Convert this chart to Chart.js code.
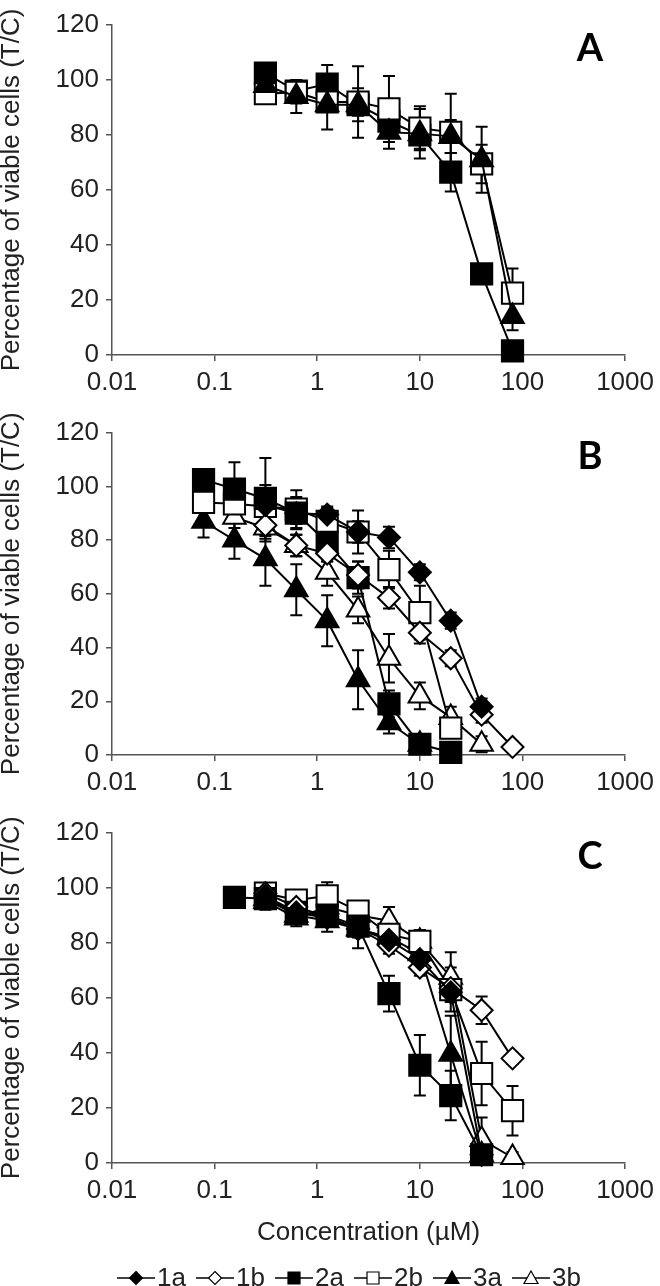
<!DOCTYPE html>
<html>
<head>
<meta charset="utf-8">
<script src="https://cdn.jsdelivr.net/npm/chart.js@4.4.1/dist/chart.umd.min.js"></script>
<style>
body{margin:0;background:#fff;}
#wrap{position:relative;width:660px;height:1286px;}
.panel{position:absolute;left:0;width:660px;}
</style>
</head>
<body>
<div id="wrap">
  <div class="panel" style="top:0;height:410px"><canvas id="chartA"></canvas></div>
  <div class="panel" style="top:410px;height:400px"><canvas id="chartB"></canvas></div>
  <div class="panel" style="top:810px;height:476px"><canvas id="chartC"></canvas></div>
</div>
<script>
// axis ticks
var xTickValues = [0.01, 0.1, 1, 10, 100, 1000]
var xTickLabels = ['0.01', '0.1', '1', '10', '100', '1000']
var seriesNames = ['1a', '1b', '2a', '2b', '3a', '3b']

// panel A
var concA = [0.3125, 0.625, 1.25, 2.5, 5, 10, 20, 40, 80]
var a2a = [102.5, 96, 98.5, 91, 85, 80, 66.5, 29.5, 1.5]
var a2aErr = [3.5, 3, 7, 4, 4, 5, 7, 2, 1]
var a2b = [95, 95.5, 92, 92, 89.5, 82.5, 81, 69.5, 22.5]
var a2bErr = [2, 4, 3, 13, 12, 8, 14, 7, 9]
var a3a = [98, 94, 91, 91, 81, 80.5, 79.5, 71, 14]
var a3aErr = [3, 6, 9, 6, 6, 9, 6, 12, 5]

// panel B
var concB = [0.078, 0.156, 0.3125, 0.625, 1.25, 2.5, 5, 10, 20, 40, 80]
var b1a = [null, null, 93, 90, 89.5, 83, 81, 68, 50, 18, null]
var b1aErr = [0, 0, 3, 4, 3, 4, 4, 3, 3, 3, 0]
var b1b = [null, null, 85.5, 78, 75, 67, 58.5, 45.5, 36, 15, 3]
var b1bErr = [0, 0, 4, 4, 3, 5, 4, 4, 3, 3, 2]
var b2a = [102.5, 99, 95.5, 90, 79, 66, 19, 4, 1, null, null]
var b2aErr = [3, 10, 15, 6, 7, 6, 5, 2, 1, 0, 0]
var b2b = [94, 93.5, 92.5, 91.5, 87, 83, 69, 53, 10, null, null]
var b2bErr = [3, 4, 8, 7, 5, 8, 7, 10, 3, 0, 0]
var b3a = [87, 80, 73, 61.5, 50, 28, 12, 4, null, null, null]
var b3aErr = [6, 7, 10, 9.5, 9.5, 11, 4, 2, 0, 0, 0]
var b3b = [null, 88.5, 84.5, 78, 68, 54, 36, 22, 14, 4, null]
var b3bErr = [0, 4, 5, 4, 5, 5, 9, 5, 4, 3, 0]

// panel C
var concC = [0.156, 0.3125, 0.625, 1.25, 2.5, 5, 10, 20, 40, 80]
var c1a = [null, 97, 91, 89, 85, 81, 74, 62, 3, null]
var c1aErr = [0, 2, 2, 2, 3, 3, 3, 3, 2, 0]
var c1b = [null, 98, 93, 89.5, 85, 79, 71, 63.5, 55.5, 38]
var c1bErr = [0, 2, 2, 3, 3, 3, 3, 4, 5, 2]
var c2a = [96.5, 96, 91, 90, 86, 61.5, 35.5, 24.5, 3, null]
var c2aErr = [2, 3, 3, 3, 4, 6.5, 11, 9, 1, 0]
var c2b = [null, 98, 95.5, 97, 91.5, 83, 80.5, 63, 32.5, 19]
var c2bErr = [0, 3, 2, 5, 3, 3, 4, 8, 11.5, 9]
var c3a = [null, 96, 90, 88, 85, 82, 76, 39.5, 3, null]
var c3aErr = [0, 3, 3, 4, 7, 3, 4, 14, 3, 0]
var c3b = [null, 95, 89, 93, 90, 88, 80.5, 67.5, 8.5, 2]
var c3bErr = [0, 3, 3, 3, 3, 5, 4, 9, 8, 2]

var looks = {
	'1a': {shape: 'rectRot', fill: '#000', r: 11},
	'1b': {shape: 'rectRot', fill: '#fff', r: 11},
	'2a': {shape: 'rect', fill: '#000', r: 15},
	'2b': {shape: 'rect', fill: '#fff', r: 15},
	'3a': {shape: 'triangle', fill: '#000', r: 13},
	'3b': {shape: 'triangle', fill: '#fff', r: 13}
}

var FONT = "'Liberation Sans', Arial, sans-serif"
var AXIS = '#555'

function makeSet(name, conc, vals, errs){
	var pts = []
	for (var i = 0; i < conc.length; i++) {
		if (vals[i] != null) pts.push({x: conc[i], y: vals[i], err: errs[i]})
	}
	var lk = looks[name]
	return {
		label: name,
		data: pts,
		borderColor: '#000',
		borderWidth: 2,
		pointStyle: lk.shape,
		pointRadius: lk.r,
		pointBackgroundColor: lk.fill,
		pointBorderColor: '#000',
		pointBorderWidth: 2,
		clip: false,
		tension: 0
	}
}

var errorBars = {
	id: 'errorBars',
	beforeDatasetsDraw: function(chart){
		var ctx = chart.ctx, ys = chart.scales.y
		ctx.save()
		ctx.strokeStyle = '#000'
		ctx.lineWidth = 2
		chart.data.datasets.forEach(function(ds, di){
			var meta = chart.getDatasetMeta(di)
			meta.data.forEach(function(pt, i){
				var d = ds.data[i]
				if (!d.err) return
				var top = ys.getPixelForValue(d.y + d.err)
				var bot = ys.getPixelForValue(Math.max(d.y - d.err, 0))
				ctx.beginPath()
				ctx.moveTo(pt.x, top); ctx.lineTo(pt.x, bot)
				ctx.moveTo(pt.x - 6, top); ctx.lineTo(pt.x + 6, top)
				ctx.moveTo(pt.x - 6, bot); ctx.lineTo(pt.x + 6, bot)
				ctx.stroke()
			})
		})
		ctx.restore()
	}
}

function panelLetter(letter){
	return {
		id: 'letter' + letter,
		afterDraw: function(chart){
			var ctx = chart.ctx
			ctx.save()
			ctx.fillStyle = '#000'
			ctx.font = "bold 38px Lato, 'Open Sans', sans-serif"
			ctx.textAlign = 'center'
			ctx.textBaseline = 'middle'
			ctx.fillText(letter, 590, chart.chartArea.top + 24)
			ctx.restore()
		}
	}
}

function legendMark(ctx, shape, fill, x, y){
	ctx.beginPath()
	if (shape == 'rectRot') {
		ctx.moveTo(x, y - 6.5); ctx.lineTo(x + 6.5, y); ctx.lineTo(x, y + 6.5); ctx.lineTo(x - 6.5, y)
	} else if (shape == 'rect') {
		ctx.rect(x - 6, y - 6, 12, 12)
	} else {
		ctx.moveTo(x, y - 7); ctx.lineTo(x + 7, y + 5.5); ctx.lineTo(x - 7, y + 5.5)
	}
	ctx.closePath()
	ctx.fillStyle = fill
	ctx.fill()
	ctx.lineWidth = 1.2
	ctx.strokeStyle = '#000'
	ctx.stroke()
}

var bottomLegend = {
	id: 'bottomLegend',
	afterDraw: function(chart){
		var ctx = chart.ctx
		var y = 468
		ctx.save()
		ctx.font = '26px ' + FONT
		ctx.textBaseline = 'middle'
		seriesNames.forEach(function(name, i){
			var x0 = 117 + i * 79
			ctx.strokeStyle = '#000'
			ctx.lineWidth = 1.5
			ctx.beginPath()
			ctx.moveTo(x0, y); ctx.lineTo(x0 + 38, y)
			ctx.stroke()
			legendMark(ctx, looks[name].shape, looks[name].fill, x0 + 19, y)
			ctx.fillStyle = '#222'
			ctx.fillText(name, x0 + 40, y + 1)
		})
		ctx.restore()
	}
}

function makeChart(id, letter, sets, o){
	var plugins = [errorBars, panelLetter(letter)]
	if (o.legend) plugins.push(bottomLegend)
	if (o.laterOnTop) sets.forEach(function(s, i){ s.order = -i })
	return new Chart(document.getElementById(id), {
		type: 'line',
		data: {datasets: sets},
		plugins: plugins,
		options: {
			responsive: true,
			maintainAspectRatio: false,
			animation: false,
			devicePixelRatio: 1,
			layout: {padding: {top: o.padTop, right: 30, bottom: o.padBottom, left: 0}},
			plugins: {legend: {display: false}, tooltip: {enabled: false}},
			scales: {
				x: {
					type: 'logarithmic',
					min: 0.01,
					max: 1000,
					afterBuildTicks: function(s){ s.ticks = xTickValues.map(function(v){ return {value: v, major: true} }) },
					afterFit: function(s){ s.height = o.xHeight },
					ticks: {
						autoSkip: false, maxRotation: 0, padding: 6, color: '#222',
						font: {family: FONT, size: 26},
						callback: function(v, i){ return xTickLabels[i] }
					},
					grid: {display: true, drawOnChartArea: false, drawTicks: true, tickLength: 6, color: AXIS, lineWidth: 1.5},
					border: {display: true, color: AXIS, width: 1.5},
					title: {
						display: !!o.xTitle, text: o.xTitle || '', color: '#222',
						font: {family: FONT, size: 26, lineHeight: 1.2},
						padding: {top: 4, bottom: 0}
					}
				},
				y: {
					min: 0,
					max: 120,
					afterFit: function(s){ s.width = 112 },
					ticks: {stepSize: 20, padding: 7, color: '#222', font: {family: FONT, size: 26}},
					grid: {display: true, drawOnChartArea: false, drawTicks: true, tickLength: 6, color: AXIS, lineWidth: 1.5},
					border: {display: true, color: AXIS, width: 1.5},
					title: {
						display: true, text: 'Percentage of viable cells (T/C)', color: '#222',
						font: {family: FONT, size: 26, lineHeight: 0.9},
						padding: 0
					}
				}
			}
		}
	})
}

makeChart('chartA', 'A', [
	makeSet('2a', concA, a2a, a2aErr),
	makeSet('2b', concA, a2b, a2bErr),
	makeSet('3a', concA, a3a, a3aErr)
], {padTop: 25, padBottom: 0, xHeight: 55, laterOnTop: true})

makeChart('chartB', 'B', [
	makeSet('1a', concB, b1a, b1aErr),
	makeSet('1b', concB, b1b, b1bErr),
	makeSet('2a', concB, b2a, b2aErr),
	makeSet('2b', concB, b2b, b2bErr),
	makeSet('3a', concB, b3a, b3aErr),
	makeSet('3b', concB, b3b, b3bErr)
], {padTop: 13, padBottom: 0, xHeight: 55})

makeChart('chartC', 'C', [
	makeSet('1a', concC, c1a, c1aErr),
	makeSet('1b', concC, c1b, c1bErr),
	makeSet('2a', concC, c2a, c2aErr),
	makeSet('2b', concC, c2b, c2bErr),
	makeSet('3a', concC, c3a, c3aErr),
	makeSet('3b', concC, c3b, c3bErr)
], {padTop: 22, padBottom: 38, xHeight: 85, xTitle: 'Concentration (µM)', legend: true})
</script>
</body>
</html>
